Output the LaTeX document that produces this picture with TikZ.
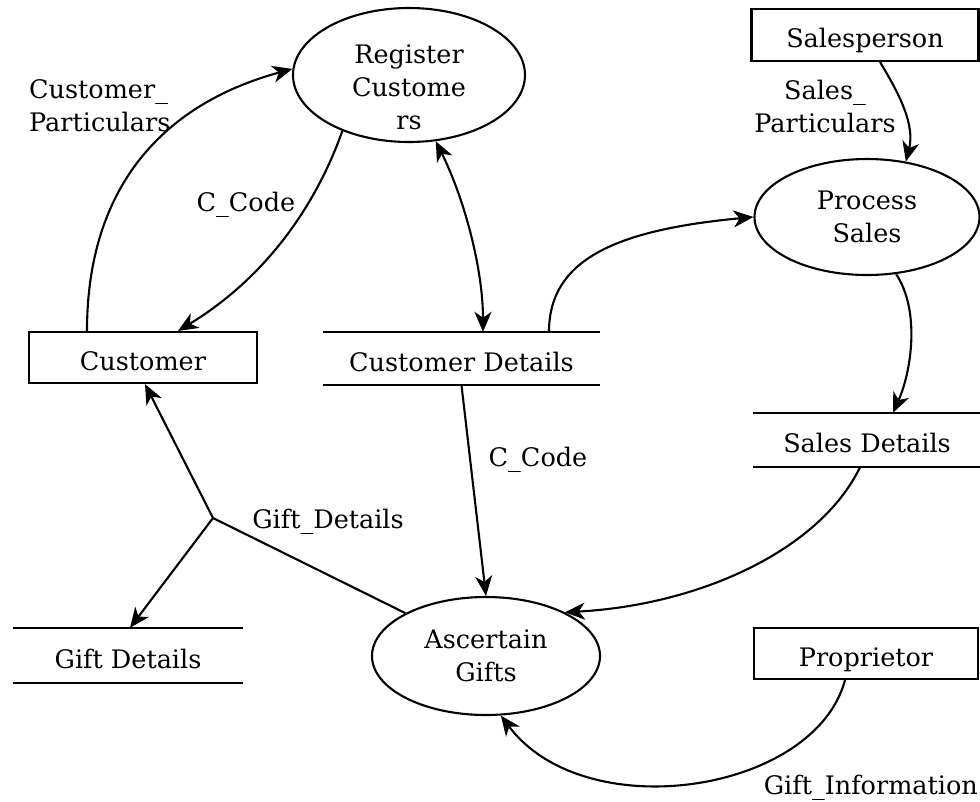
\documentclass[tikz,border=0pt]{standalone}
\usepackage{fontspec}
\setmainfont{DejaVu Serif}
\usetikzlibrary{shapes.geometric,arrows.meta}
\begin{document}
\begin{tikzpicture}[x=1pt,y=-1pt,
  every node/.style={font=\fontsize{25.5}{33}\selectfont},
  every label/.style={font=\fontsize{25.5}{33}\selectfont},
  >={Stealth[length=20pt,width=17pt,inset=6pt]},
  flow/.style={line width=2.1pt,->},
  line/.style={line width=2.1pt},
  process/.style={ellipse,draw,line width=2.1pt,inner sep=0pt,align=center},
  entity/.style={rectangle,draw,line width=2.1pt,inner sep=0pt,text height=25pt,text depth=0pt},
  store/.style={rectangle,inner sep=0pt,text height=25pt,text depth=0pt},
  lbl/.style={inner sep=0pt,align=center}]
\useasboundingbox (0,0) rectangle (980,801);

% processes
\node[process,minimum width=232pt,minimum height=134pt,
      label={[align=center,yshift=-12pt]center:Register\\Custome\\rs}] (reg) at (409,75) {};
\node[process,minimum width=225pt,minimum height=116pt] (proc) at (867,217) {Process\\Sales};
\node[process,minimum width=228pt,minimum height=118pt] (asc) at (486,656) {Ascertain\\Gifts};

% external entities
\node[entity,minimum width=228pt,minimum height=51pt] (cust) at (143,357.5) {Customer};
\node[entity,minimum width=227pt,minimum height=52pt] (sp) at (865,35) {Salesperson};
\node[entity,minimum width=224pt,minimum height=51pt] (prop) at (866,653.5) {Proprietor};

% data stores
\node[store,minimum width=277pt,minimum height=53pt] (cd) at (461.5,358.5) {Customer Details};
\node[store,minimum width=228pt,minimum height=54pt] (sd) at (867,440) {Sales Details};
\node[store,minimum width=230pt,minimum height=55pt] (gd) at (128,655.5) {Gift Details};
\foreach \s in {cd,sd,gd} {
  \draw[line] (\s.north west) -- (\s.north east) (\s.south west) -- (\s.south east);
}

% data flows
\draw[flow] ([xshift=-56pt]cust.north) .. controls (87,190) and (160,105) .. (reg.177);
\draw[flow] (reg.-140) .. controls (318,200) and (270,275) .. ([xshift=35pt]cust.north);
\draw[line,<->] (reg.-68) .. controls (465,200) and (483,270) .. ([xshift=21.5pt]cd.north);
\draw[flow] ([xshift=87.5pt]cd.north) .. controls (549,260) and (615,230) .. (proc.west);
\draw[flow] ([xshift=15pt]sp.south) .. controls (900,95) and (915,125) .. (proc.55);
\draw[flow] (proc.-63) .. controls (920,310) and (912,370) .. ([xshift=26pt]sd.north);
\draw[flow] (cd.south) -- (asc.north);
\draw[flow] ([xshift=-7pt]sd.south) .. controls (820,550) and (700,605) .. (asc.29);
\draw[flow] ([xshift=-21pt]prop.south) .. controls (815,793) and (585,828) .. (asc.-76);

% split flow of gift details
\coordinate (j) at (213,518);
\draw[line] (asc.152) -- (j);
\draw[flow] (j) -- ([xshift=2pt]cust.south);
\draw[flow] (j) -- ([xshift=2pt]gd.north);

% flow labels
\node[lbl,anchor=west,align=left] (lcp) at (29,106) {Customer\_\\Particulars};
\node[lbl] (lsp) at (825,106) {Sales\_\\Particulars};
\node[lbl] (lc1) at (246,205) {C\_Code};
\node[lbl] (lc2) at (538,460) {C\_Code};
\node[lbl] (lgd) at (328,522) {Gift\_Details};
\node[lbl,anchor=east] (lgi) at (978,788) {Gift\_Information};
\end{tikzpicture}
\end{document}
